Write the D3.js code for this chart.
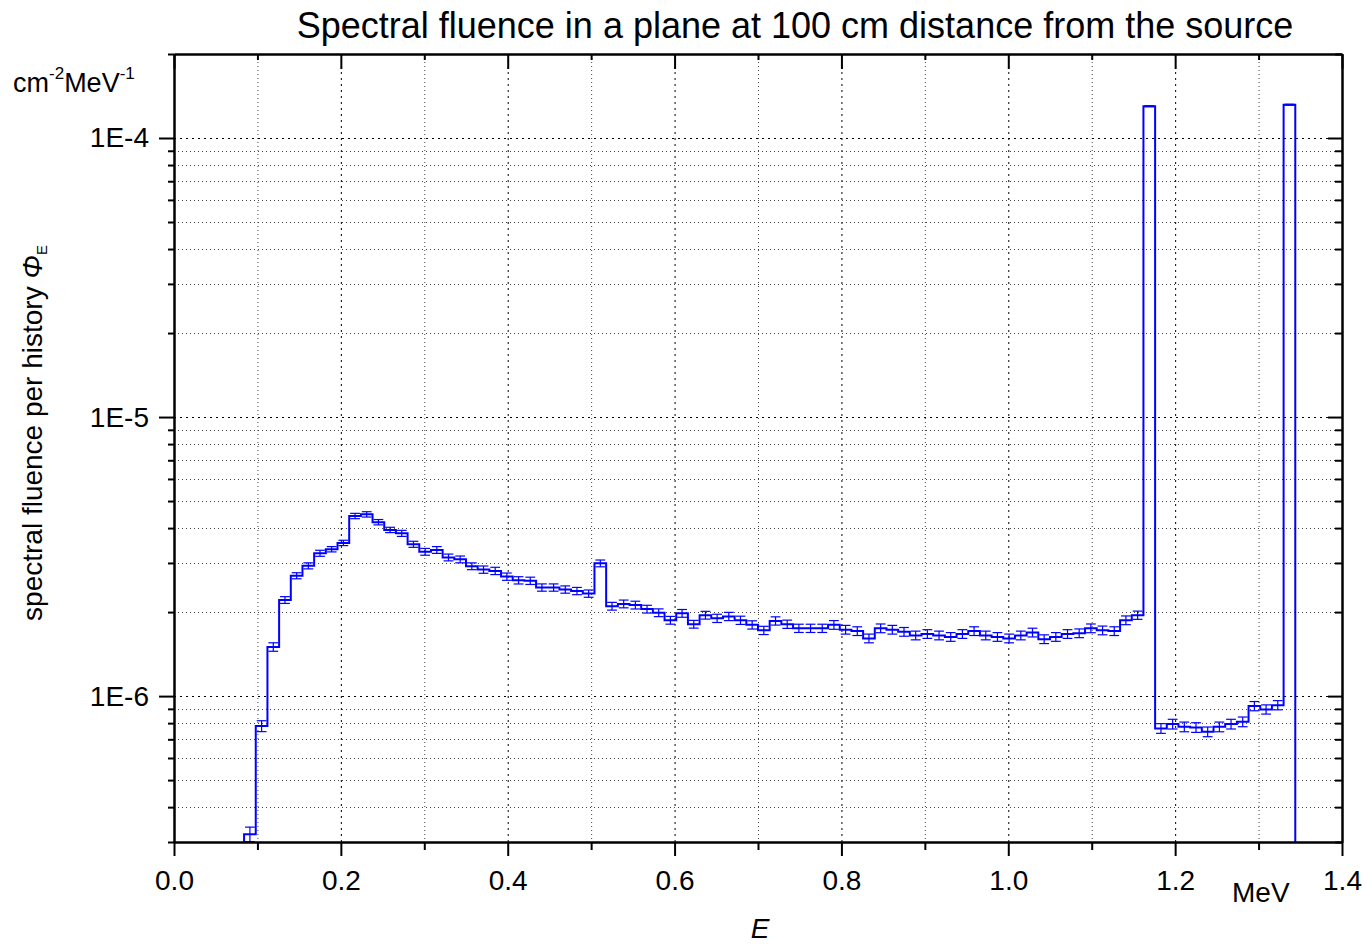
<!DOCTYPE html>
<html><head><meta charset="utf-8">
<script src="https://cdn.jsdelivr.net/npm/d3@7"></script>
<style>
body{margin:0;background:#fff}
text{font-family:"Liberation Sans",Arial,Helvetica,sans-serif;fill:#000}
</style>
</head><body>
<svg id="c" width="1366" height="944"></svg>
<script>
// ---------- data ----------
const binWidth = 0.014;   // MeV
const binLeft = [0.084,0.098,0.112,0.126,0.140,0.154,0.168,0.182,0.196,0.210,
0.224,0.238,0.252,0.266,0.280,0.294,0.308,0.322,0.336,0.350,
0.364,0.378,0.392,0.406,0.420,0.434,0.448,0.462,0.476,0.490,
0.504,0.518,0.532,0.546,0.560,0.574,0.588,0.602,0.616,0.630,
0.644,0.658,0.672,0.686,0.700,0.714,0.728,0.742,0.756,0.770,
0.784,0.798,0.812,0.826,0.840,0.854,0.868,0.882,0.896,0.910,
0.924,0.938,0.952,0.966,0.980,0.994,1.008,1.022,1.036,1.050,
1.064,1.078,1.092,1.106,1.120,1.134,1.148,1.162,1.176,1.190,
1.204,1.218,1.232,1.246,1.260,1.274,1.288,1.302,1.316,1.330];
const fluence = [3.20e-7,7.81e-7,1.50e-6,2.21e-6,2.70e-6,2.93e-6,3.25e-6,3.36e-6,3.54e-6,4.42e-6,
4.48e-6,4.20e-6,3.94e-6,3.83e-6,3.50e-6,3.29e-6,3.34e-6,3.14e-6,3.09e-6,2.92e-6,
2.84e-6,2.81e-6,2.68e-6,2.60e-6,2.59e-6,2.45e-6,2.45e-6,2.41e-6,2.38e-6,2.33e-6,
2.99e-6,2.10e-6,2.14e-6,2.12e-6,2.05e-6,1.99e-6,1.87e-6,1.98e-6,1.81e-6,1.95e-6,
1.90e-6,1.93e-6,1.87e-6,1.80e-6,1.72e-6,1.86e-6,1.81e-6,1.75e-6,1.75e-6,1.75e-6,
1.80e-6,1.73e-6,1.71e-6,1.61e-6,1.75e-6,1.73e-6,1.70e-6,1.65e-6,1.67e-6,1.65e-6,
1.63e-6,1.67e-6,1.71e-6,1.65e-6,1.63e-6,1.61e-6,1.65e-6,1.69e-6,1.60e-6,1.63e-6,
1.67e-6,1.68e-6,1.75e-6,1.72e-6,1.71e-6,1.87e-6,1.95e-6,1.30e-4,7.66e-7,7.94e-7,
7.76e-7,7.72e-7,7.45e-7,7.76e-7,7.94e-7,8.09e-7,9.21e-7,8.96e-7,9.28e-7,1.316e-4];
const relError = [0.060,0.045,0.035,0.028,0.025,0.025,0.025,0.022,0.022,0.022,
0.022,0.022,0.022,0.025,0.025,0.028,0.028,0.028,0.028,0.028,
0.030,0.030,0.030,0.030,0.030,0.030,0.030,0.030,0.030,0.030,
0.028,0.032,0.032,0.032,0.032,0.032,0.032,0.032,0.032,0.032,
0.034,0.034,0.034,0.034,0.034,0.034,0.034,0.034,0.034,0.034,
0.036,0.036,0.036,0.036,0.036,0.036,0.036,0.036,0.036,0.036,
0.036,0.036,0.036,0.036,0.036,0.036,0.036,0.036,0.036,0.036,
0.036,0.036,0.036,0.036,0.036,0.036,0.034,0.004,0.040,0.040,
0.040,0.040,0.040,0.040,0.040,0.040,0.038,0.038,0.038,0.004];

const xDomain = [0, 1.4];
const yDomain = [3e-7, 2e-4];
const xMajorTicks = [0, 0.2, 0.4, 0.6, 0.8, 1.0, 1.2, 1.4];
const xTickLabels = ["0.0","0.2","0.4","0.6","0.8","1.0","1.2","1.4"];
const xMinorTicks = [0.1, 0.3, 0.5, 0.7, 0.9, 1.1, 1.3];
const yMajorTicks = [1e-6, 1e-5, 1e-4];
const yTickLabels = ["1E-6","1E-5","1E-4"];
const yMinorTicks = [3e-7,4e-7,5e-7,6e-7,7e-7,8e-7,9e-7,
  2e-6,3e-6,4e-6,5e-6,6e-6,7e-6,8e-6,9e-6,
  2e-5,3e-5,4e-5,5e-5,6e-5,7e-5,8e-5,9e-5,2e-4];

// ---------- layout ----------
const X0 = 174, X1 = 1342, Y0 = 54, Y1 = 842;
const svg = d3.select("#c");
const x = d3.scaleLinear().domain(xDomain).range([X0, X1]);
const y = d3.scaleLog().domain(yDomain).range([Y1, Y0]);

svg.append("defs").append("clipPath").attr("id","clip")
  .append("rect").attr("x",X0).attr("y",Y0).attr("width",X1-X0).attr("height",Y1-Y0);

// ---------- grid ----------
const grid = svg.append("g");
grid.selectAll(".gxM").data(xMajorTicks.filter(v => v > xDomain[0] && v < xDomain[1])).join("line")
  .attr("x1",d=>x(d)+0.5).attr("x2",d=>x(d)+0.5).attr("y1",Y0).attr("y2",Y1)
  .attr("stroke","#000").attr("stroke-width",1).attr("stroke-dasharray","2,4");
grid.selectAll(".gxm").data(xMinorTicks).join("line")
  .attr("x1",d=>x(d)+0.5).attr("x2",d=>x(d)+0.5).attr("y1",Y0).attr("y2",Y1)
  .attr("stroke","#444").attr("stroke-width",1).attr("stroke-dasharray","1,3");
grid.selectAll(".gyM").data(yMajorTicks).join("line")
  .attr("y1",d=>Math.round(y(d))+0.5).attr("y2",d=>Math.round(y(d))+0.5).attr("x1",X0).attr("x2",X1)
  .attr("stroke","#000").attr("stroke-width",1).attr("stroke-dasharray","2,4");
grid.selectAll(".gym").data(yMinorTicks.filter(v => v > yDomain[0] && v < yDomain[1])).join("line")
  .attr("y1",d=>Math.round(y(d))+0.5).attr("y2",d=>Math.round(y(d))+0.5).attr("x1",X0).attr("x2",X1)
  .attr("stroke","#444").attr("stroke-width",1).attr("stroke-dasharray","1,3");

// ---------- histogram ----------
const plot = svg.append("g").attr("clip-path","url(#clip)");
const bins = binLeft.map((e,i) => ({x0:e, x1:e+binWidth, v:fluence[i], err:relError[i]}));

// error bars
const eb = plot.append("g").attr("stroke","#0000ff").attr("stroke-width",1.2).attr("fill","none");
bins.forEach(b => {
  const cx = (x(b.x0)+x(b.x1))/2;
  const hw = (x(b.x1)-x(b.x0))*0.42;
  const yt = y(b.v*(1+b.err)), yb = y(b.v*(1-b.err));
  eb.append("line").attr("x1",cx).attr("x2",cx).attr("y1",yt).attr("y2",yb);
  eb.append("line").attr("x1",cx-hw).attr("x2",cx+hw).attr("y1",yt).attr("y2",yt);
  eb.append("line").attr("x1",cx-hw).attr("x2",cx+hw).attr("y1",yb).attr("y2",yb);
});

// step line
const pts = [[x(bins[0].x0), Y1+5]];
bins.forEach(b => { pts.push([x(b.x0), y(b.v)]); pts.push([x(b.x1), y(b.v)]); });
pts.push([x(bins[bins.length-1].x1), Y1+5]);
plot.append("path").attr("d", d3.line()(pts))
  .attr("fill","none").attr("stroke","#0000ff").attr("stroke-width",2).attr("stroke-linejoin","miter");

// ---------- axes ----------
function styleAxis(g){
  g.select(".domain").attr("stroke","#000").attr("stroke-width",2);
  g.selectAll(".tick line").attr("stroke","#000").attr("stroke-width",2);
  g.selectAll(".tick text").attr("font-size",28).attr("font-family",'"Liberation Sans",Arial,sans-serif');
}
// bottom
svg.append("g").attr("transform",`translate(0,${Y1})`)
  .call(d3.axisBottom(x).tickValues(xMinorTicks).tickSize(8).tickSizeOuter(0).tickFormat(""))
  .call(styleAxis);
svg.append("g").attr("transform",`translate(0,${Y1})`)
  .call(d3.axisBottom(x).tickValues(xMajorTicks).tickSize(14).tickSizeOuter(0).tickPadding(14)
    .tickFormat((d,i)=>xTickLabels[i]))
  .call(styleAxis);
// top
svg.append("g").attr("transform",`translate(0,${Y0})`)
  .call(d3.axisTop(x).tickValues(xMinorTicks).tickSize(-6).tickSizeOuter(0).tickFormat(""))
  .call(styleAxis);
svg.append("g").attr("transform",`translate(0,${Y0})`)
  .call(d3.axisTop(x).tickValues(xMajorTicks).tickSize(-15).tickSizeOuter(0).tickFormat(""))
  .call(styleAxis);
// left
svg.append("g").attr("transform",`translate(${X0},0)`)
  .call(d3.axisLeft(y).tickValues(yMinorTicks).tickSize(6).tickSizeOuter(0).tickFormat(""))
  .call(styleAxis);
svg.append("g").attr("transform",`translate(${X0},0)`)
  .call(d3.axisLeft(y).tickValues(yMajorTicks).tickSize(15).tickSizeOuter(0).tickPadding(10)
    .tickFormat((d,i)=>yTickLabels[i]))
  .call(styleAxis);
// right
svg.append("g").attr("transform",`translate(${X1},0)`)
  .call(d3.axisRight(y).tickValues(yMinorTicks).tickSize(-7).tickSizeOuter(0).tickFormat(""))
  .call(styleAxis);
svg.append("g").attr("transform",`translate(${X1},0)`)
  .call(d3.axisRight(y).tickValues(yMajorTicks).tickSize(-14).tickSizeOuter(0).tickFormat(""))
  .call(styleAxis);

// ---------- texts ----------
svg.append("text").attr("x",795).attr("y",38).attr("text-anchor","middle")
  .attr("font-size",36).text("Spectral fluence in a plane at 100 cm distance from the source");

const unit = svg.append("text").attr("x",13).attr("y",92).attr("font-size",27);
unit.append("tspan").text("cm");
unit.append("tspan").attr("font-size",17).attr("dy",-13).text("-2");
unit.append("tspan").attr("dy",13).text("MeV");
unit.append("tspan").attr("font-size",17).attr("dy",-13).text("-1");

const yl = svg.append("text").attr("transform","translate(42,433) rotate(-90)")
  .attr("text-anchor","middle").attr("font-size",28);
yl.append("tspan").text("spectral fluence per history ");
yl.append("tspan").attr("font-style","italic").text("\u03A6");
yl.append("tspan").attr("font-size",15).attr("dy",5).text("E");

svg.append("text").attr("x",760).attr("y",938).attr("text-anchor","middle")
  .attr("font-size",28).attr("font-style","italic").text("E");
svg.append("text").attr("x",1232).attr("y",902).attr("font-size",28).text("MeV");
</script>
</body></html>
